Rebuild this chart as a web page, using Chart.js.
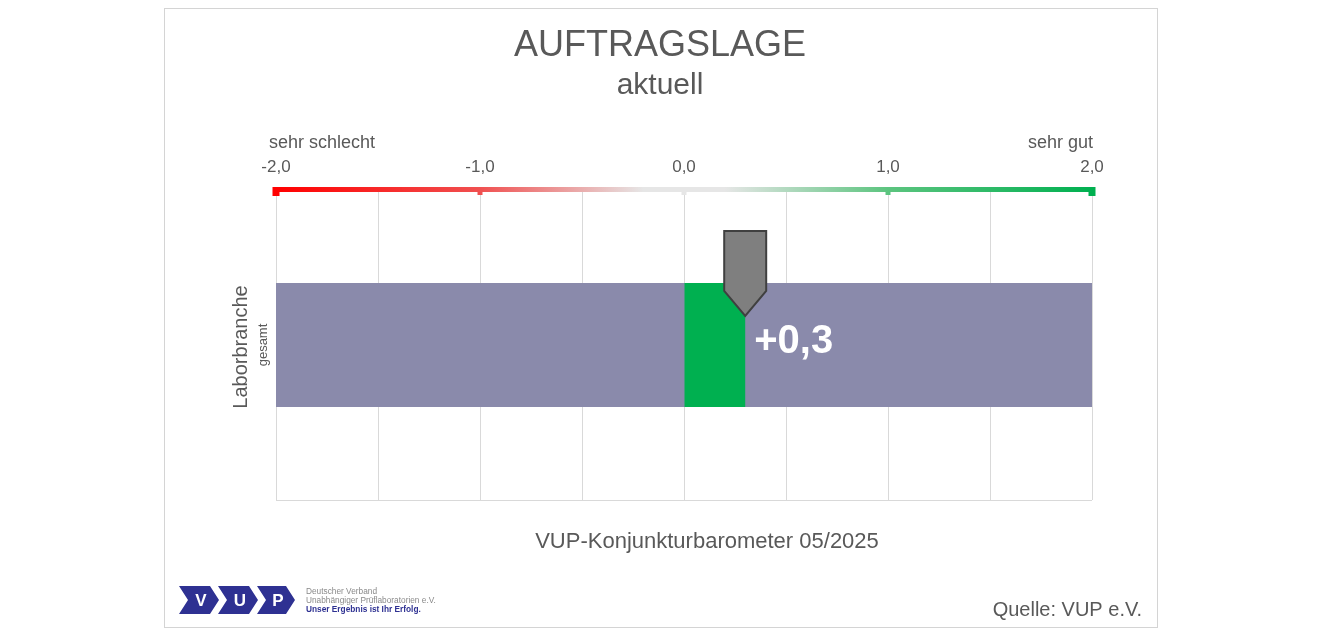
<!DOCTYPE html>
<html>
<head>
<meta charset="utf-8">
<script src="https://cdn.jsdelivr.net/npm/chart.js@4.4.1/dist/chart.umd.min.js"></script>
<style>
  body { margin: 0; background: #fff; font-family: "Liberation Sans", Arial, sans-serif; }
  #frame { position: absolute; left: 164px; top: 8px; width: 992px; height: 618px; border: 1px solid #d4d4d4; }
  #logo { position: absolute; left: 178px; top: 584px; }
</style>
</head>
<body>
<div id="frame"><canvas id="myChart"></canvas></div>
<svg id="logo" width="280" height="34" viewBox="0 0 280 34">
  <g fill="#2e3192">
    <polygon points="1,2 32,2 41,16 32,30 1,30 10,16"/>
    <polygon points="40,2 71,2 80,16 71,30 40,30 49,16"/>
    <polygon points="79,2 108,2 117,16 108,30 79,30 88,16"/>
  </g>
  <g fill="#fff" font-family="Liberation Sans, Arial" font-weight="bold" font-size="17" text-anchor="middle">
    <text x="23" y="22">V</text>
    <text x="62" y="22">U</text>
    <text x="100" y="22">P</text>
  </g>
  <g font-family="Liberation Sans, Arial" font-size="8.3">
    <text x="128" y="10" fill="#8a8a8a">Deutscher Verband</text>
    <text x="128" y="19" fill="#8a8a8a">Unabhängiger Prüflaboratorien e.V.</text>
    <text x="128" y="28" fill="#2e3192" font-weight="bold">Unser Ergebnis ist Ihr Erfolg.</text>
  </g>
</svg>
<script>
const categories = ['Laborbranche'];
const subLabels = ['gesamt'];
const values = [0.3];
const scaleMin = -2;
const scaleMax = 2;
const tickValues = [-2, -1, 0, 1, 2];
const title = 'AUFTRAGSLAGE';
const subtitle = 'aktuell';
const footer = 'VUP-Konjunkturbarometer 05/2025';
const source = 'Quelle: VUP e.V.';

const fontFamily = '"Liberation Sans", Arial, sans-serif';
const textColor = '#595959';

const fmt = v => (v > 0 ? '+' : '') + v.toFixed(1).replace('.', ',');

const overlay = {
  id: 'overlay',
  afterDatasetsDraw(chart) {
    const ctx = chart.ctx;
    const area = chart.chartArea;
    const x = chart.scales.x;
    ctx.save();

    // bottom border of plot
    ctx.strokeStyle = '#d9d9d9';
    ctx.lineWidth = 1;
    ctx.beginPath();
    ctx.moveTo(area.left, area.bottom + 0.5);
    ctx.lineTo(area.right, area.bottom + 0.5);
    ctx.stroke();

    // coloured scale line at top
    const g = ctx.createLinearGradient(area.left, 0, area.right, 0);
    g.addColorStop(0, '#ff0000');
    g.addColorStop(0.25, '#f05050');
    g.addColorStop(0.45, '#e6e6e6');
    g.addColorStop(0.55, '#e6e6e6');
    g.addColorStop(0.75, '#5cc47f');
    g.addColorStop(1, '#00b050');
    ctx.fillStyle = g;
    ctx.fillRect(area.left - 2, area.top - 3, area.right - area.left + 4, 5);
    tickValues.forEach(v => {
      const px = x.getPixelForValue(v);
      const big = v === scaleMin || v === scaleMax;
      const s = big ? 7 : 5;
      ctx.fillRect(px - s / 2, area.top - 3, s, big ? 9 : 8);
    });

    // marker + value label
    const meta = chart.getDatasetMeta(0);
    meta.data.forEach((bar, i) => {
      const v = values[i];
      const px = x.getPixelForValue(v);
      const top = bar.y - bar.height / 2;
      ctx.beginPath();
      ctx.moveTo(px - 21, top - 52);
      ctx.lineTo(px + 21, top - 52);
      ctx.lineTo(px + 21, top + 8);
      ctx.lineTo(px, top + 33);
      ctx.lineTo(px - 21, top + 8);
      ctx.closePath();
      ctx.fillStyle = '#7f7f7f';
      ctx.fill();
      ctx.strokeStyle = '#404040';
      ctx.lineWidth = 2;
      ctx.stroke();

      ctx.fillStyle = '#ffffff';
      ctx.font = 'bold 40px ' + fontFamily;
      ctx.textAlign = 'left';
      ctx.textBaseline = 'middle';
      ctx.fillText(fmt(v), px + 9, bar.y - 3);
    });

    // extreme labels
    ctx.fillStyle = textColor;
    ctx.font = '18px ' + fontFamily;
    ctx.textBaseline = 'middle';
    ctx.textAlign = 'left';
    ctx.fillText('sehr schlecht', area.left - 7, 134);
    ctx.textAlign = 'right';
    ctx.fillText('sehr gut', area.right + 1, 134);

    // titles
    ctx.textAlign = 'center';
    ctx.font = '36px ' + fontFamily;
    ctx.fillText(title, 495, 37);
    ctx.font = '30px ' + fontFamily;
    ctx.fillText(subtitle, 495, 77);

    ctx.font = '22px ' + fontFamily;
    ctx.fillText(footer, 542, 533);

    ctx.textAlign = 'right';
    ctx.font = '20px ' + fontFamily;
    ctx.fillText(source, 977, 601);

    // category axis title
    const cy = (area.top + area.bottom) / 2;
    ctx.save();
    ctx.translate(area.left - 35, cy + 2);
    ctx.rotate(-Math.PI / 2);
    ctx.textAlign = 'center';
    ctx.font = '20px ' + fontFamily;
    ctx.fillText(categories[0], 0, 0);
    ctx.restore();
    ctx.save();
    ctx.translate(area.left - 13, cy);
    ctx.rotate(-Math.PI / 2);
    ctx.textAlign = 'center';
    ctx.font = '13px ' + fontFamily;
    ctx.fillText(subLabels[0], 0, 0);
    ctx.restore();

    ctx.restore();
  }
};

const ctx = document.getElementById('myChart').getContext('2d');
const myChart = new Chart(ctx, {
  type: 'bar',
  data: {
    labels: categories,
    datasets: [
      {
        data: values.map(v => [0, v]),
        backgroundColor: '#00b050',
        grouped: false,
        order: 1,
      },
      {
        data: categories.map(() => [scaleMin, scaleMax]),
        backgroundColor: '#8a8aab',
        grouped: false,
        order: 2,
      },
    ],
  },
  options: {
    indexAxis: 'y',
    responsive: true,
    maintainAspectRatio: false,
    animation: false,
    barPercentage: 0.4,
    categoryPercentage: 1,
    layout: {
      padding: { left: 111, right: 65, top: 0, bottom: 127 },
    },
    plugins: {
      legend: { display: false },
      tooltip: { enabled: false },
    },
    scales: {
      x: {
        position: 'top',
        min: scaleMin,
        max: scaleMax,
        afterFit(scale) { scale.height = 181; },
        border: { display: false },
        grid: { color: '#d9d9d9', drawTicks: false },
        ticks: {
          stepSize: 0.5,
          autoSkip: false,
          maxRotation: 0,
          padding: 12,
          color: textColor,
          font: { size: 17, family: fontFamily },
          callback: v => Number.isInteger(v) ? v.toFixed(1).replace('.', ',') : '',
        },
      },
      y: {
        display: false,
      },
    },
  },
  plugins: [overlay],
});
</script>
</body>
</html>
